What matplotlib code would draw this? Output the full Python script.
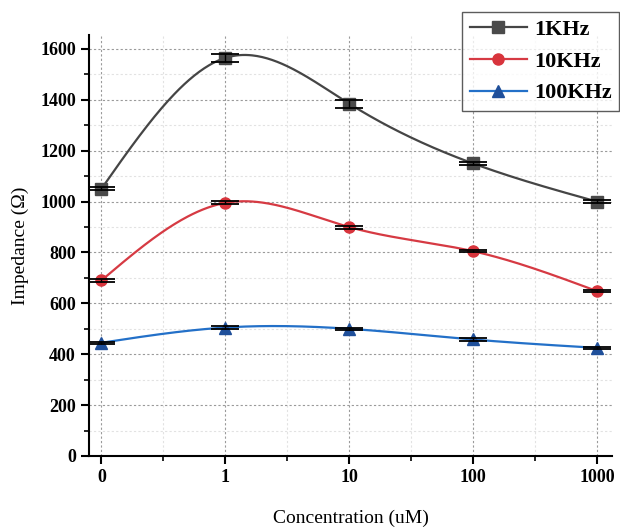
import numpy as np
import matplotlib
matplotlib.use('Agg')
import matplotlib.pyplot as plt
from matplotlib.ticker import MultipleLocator

categories = ['0', '1', '10', '100', '1000']
imp_1k = [1050, 1565, 1385, 1150, 1000]
err_1k = [6, 15, 16, 6, 5]
imp_10k = [690, 995, 900, 805, 648]
err_10k = [5, 6, 6, 5, 5]
imp_100k = [445, 505, 500, 458, 425]
err_100k = [5, 5, 5, 5, 5]


def natural_spline(x, y, n=300):
    # plain natural cubic spline, no scipy needed
    x = np.asarray(x, float)
    y = np.asarray(y, float)
    k = len(x)
    h = np.diff(x)
    a = np.zeros((k, k))
    b = np.zeros(k)
    a[0, 0] = a[-1, -1] = 1
    for i in range(1, k - 1):
        a[i, i - 1] = h[i - 1]
        a[i, i] = 2 * (h[i - 1] + h[i])
        a[i, i + 1] = h[i]
        b[i] = 3 * ((y[i + 1] - y[i]) / h[i] - (y[i] - y[i - 1]) / h[i - 1])
    c = np.linalg.solve(a, b)
    xs = np.linspace(x[0], x[-1], n)
    idx = np.clip(np.searchsorted(x, xs) - 1, 0, k - 2)
    dx = xs - x[idx]
    hi = h[idx]
    bb = (y[idx + 1] - y[idx]) / hi - hi * (2 * c[idx] + c[idx + 1]) / 3
    dd = (c[idx + 1] - c[idx]) / (3 * hi)
    ys = y[idx] + bb * dx + c[idx] * dx ** 2 + dd * dx ** 3
    return xs, ys


fig = plt.figure(figsize=(6.2, 5.28), dpi=100)
ax = fig.add_axes([0.1435, 0.1364, 0.8435, 0.7973])

xpos = np.arange(len(categories))
series = [
    (imp_1k, err_1k, '1KHz', '#454545', '#4a4a4a', 's', 8),
    (imp_10k, err_10k, '10KHz', '#d63a43', '#d8343c', 'o', 8),
    (imp_100k, err_100k, '100KHz', '#2370c8', '#1f4f9a', '^', 9),
]
handles = []
for vals, errs, lab, lc, mc, mk, ms in series:
    xs, ys = natural_spline(xpos, vals)
    ax.plot(xs, ys, color=lc, lw=1.6, zorder=3)
    ax.plot(xpos, vals, ls='none', marker=mk, ms=ms, color=mc, zorder=4)
    ax.errorbar(xpos, vals, yerr=errs, fmt='none', ecolor='black',
                elinewidth=1.0, capsize=10, capthick=1.3, zorder=5)
    h, = ax.plot([], [], color=lc, lw=1.6, marker=mk, ms=ms, mfc=mc, mec=mc,
                 label=lab)
    handles.append(h)

ax.set_xlim(-0.1, 4.12)
ax.set_ylim(0, 1655)
ax.set_xticks(xpos)
ax.set_xticklabels(categories)
ax.xaxis.set_minor_locator(MultipleLocator(0.5))
ax.yaxis.set_major_locator(MultipleLocator(200))
ax.yaxis.set_minor_locator(MultipleLocator(100))

for s in ['top', 'right']:
    ax.spines[s].set_visible(False)
for s in ['left', 'bottom']:
    ax.spines[s].set_linewidth(1.5)

ax.tick_params(which='major', direction='out', length=6, width=1.5,
               labelsize=13)
ax.tick_params(which='minor', direction='out', length=3.5, width=1.2)
for t in ax.get_xticklabels() + ax.get_yticklabels():
    t.set_fontfamily('Liberation Serif')
    t.set_fontweight('bold')

ax.grid(which='major', color='#9a9a9a', ls=(0, (2, 2)), lw=0.8, zorder=0)
ax.grid(which='minor', color='#e2e2e2', ls=(0, (2, 2)), lw=0.8, zorder=0)
ax.set_axisbelow(True)

ax.set_xlabel('Concentration (uM)', fontfamily='Liberation Serif',
              fontsize=14, labelpad=17)
ax.set_ylabel('Impedance (Ω)', fontfamily='Liberation Serif', fontsize=14,
              labelpad=8)

leg = fig.legend(handles=handles, loc='upper right',
                 bbox_to_anchor=(0.999, 0.978), frameon=True, fancybox=False,
                 prop={'family': 'Liberation Serif', 'weight': 'bold',
                       'size': 16},
                 handlelength=2.6, borderpad=0.35, labelspacing=0.5,
                 handletextpad=0.3, borderaxespad=0.0)
leg.get_frame().set_edgecolor('#333333')
leg.get_frame().set_linewidth(1.0)

fig.savefig('out.png', dpi=100)
